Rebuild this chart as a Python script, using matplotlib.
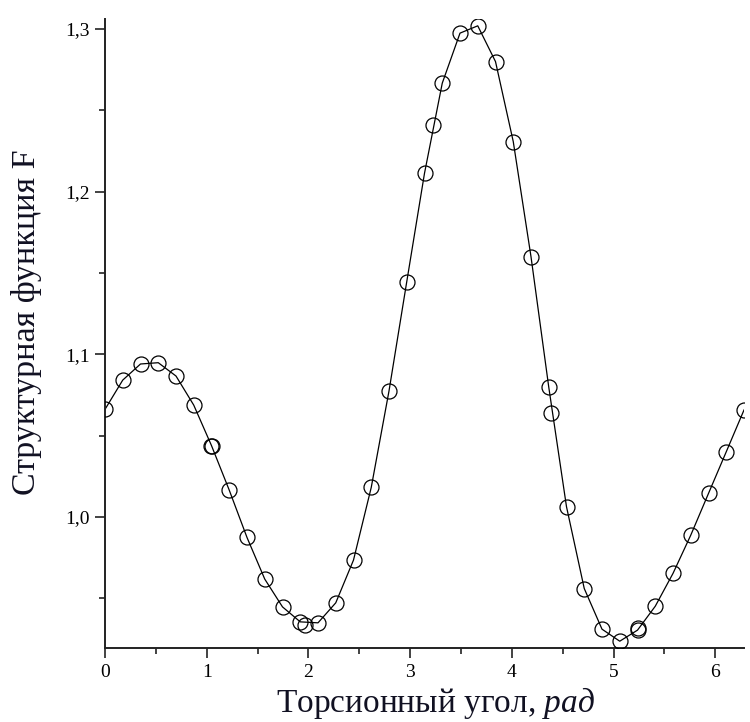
import numpy as np
import matplotlib
matplotlib.use("Agg")
import matplotlib.pyplot as plt
from matplotlib.ticker import MultipleLocator, FuncFormatter

plt.rcParams["mathtext.fontset"] = "custom"
plt.rcParams["mathtext.rm"] = "Liberation Serif"
plt.rcParams["mathtext.it"] = "Liberation Serif:italic"

# Torsion angle in degrees (main series, 10° steps) and structure function F
angle_deg = [0, 10, 20, 30, 40, 50, 60, 70, 80, 90, 100, 110, 120, 130, 140, 150,
             160, 170, 180, 190, 200, 210, 220, 230, 240, 250, 260, 270, 280, 290,
             300, 310, 320, 330, 340, 350, 360]
F_values = [1.0661, 1.0841, 1.0940, 1.0948, 1.0866, 1.0687, 1.0438, 1.0164, 0.9873,
            0.9617, 0.9446, 0.9354, 0.9348, 0.9471, 0.9734, 1.0181, 1.0774, 1.1446,
            1.2113, 1.2667, 1.2975, 1.3020, 1.2800, 1.2308, 1.1600, 1.0798, 1.0062,
            0.9559, 0.9309, 0.9235, 0.9303, 0.9450, 0.9652, 0.9887, 1.0144, 1.0400,
            1.0657]

# Additional measured points (rad)
extra_x = [1.047, 1.97, 3.228, 4.39, 5.236]
extra_F = [1.0435, 0.9333, 1.2411, 1.0638, 0.9315]

x_ticks = [0, 1, 2, 3, 4, 5, 6]
y_ticks = [1.0, 1.1, 1.2, 1.3]

x_main = np.deg2rad(angle_deg)

fig = plt.figure(figsize=(7.5, 7.22), dpi=100)
ax = fig.add_axes([0.14, 0.102, 0.852, 0.8717])

ax.plot(x_main, F_values, color="black", lw=0.9, zorder=2)
ax.plot(x_main, F_values, linestyle="none", marker="o", markersize=10.8,
        markerfacecolor="none", markeredgecolor="black", markeredgewidth=0.9, zorder=3)
ax.plot(extra_x, extra_F, linestyle="none", marker="o", markersize=10.8,
        markerfacecolor="none", markeredgecolor="black", markeredgewidth=0.9, zorder=3)

ax.set_xlim(0, 2 * np.pi)
ax.set_ylim(0.9191, 1.3062)

for s in ["top", "right"]:
    ax.spines[s].set_visible(False)
for s in ["left", "bottom"]:
    ax.spines[s].set_linewidth(1.4)
    ax.spines[s].set_color("#222222")

ax.set_xticks(x_ticks)
ax.set_yticks(y_ticks)
ax.xaxis.set_minor_locator(MultipleLocator(0.5))
ax.yaxis.set_minor_locator(MultipleLocator(0.05))
ax.yaxis.set_major_formatter(FuncFormatter(lambda v, p: f"{v:.1f}".replace(".", ",")))
ax.xaxis.set_major_formatter(FuncFormatter(lambda v, p: f"{int(round(v))}"))
ax.tick_params(which="major", direction="out", length=7.5, width=1.2, color="#222222",
               labelsize=14)
ax.tick_params(which="minor", direction="out", length=4, width=1.2, color="#222222")
for lab in ax.get_xticklabels() + ax.get_yticklabels():
    lab.set_fontfamily("Liberation Serif")

fig.text(436 / 750, 1 - 712 / 722, "Торсионный угол, $\\mathit{рад}$", fontsize=24,
         fontfamily="Liberation Serif", color="#111122", ha="center", va="baseline")
fig.text(35 / 750, 1 - 322 / 722, "Структурная функция F", fontsize=24.5,
         fontfamily="Liberation Serif", color="#111122", ha="center", va="baseline",
         rotation=90, rotation_mode="anchor")

fig.savefig("out.png", dpi=100)
